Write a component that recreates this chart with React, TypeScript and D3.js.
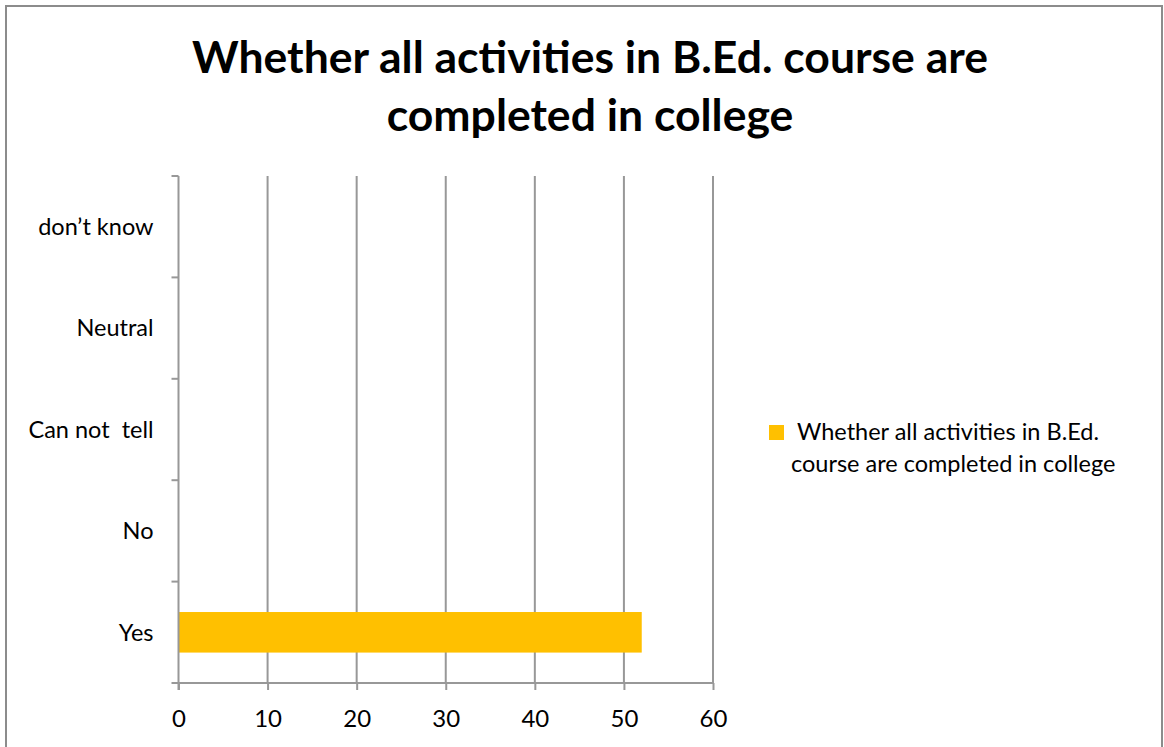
import React, { useEffect, useRef } from 'react';
import * as d3 from 'd3';

const categories = ["Yes", "No", "Can not  tell", "Neutral", "don\u2019t know"];
const values = [52, 0, 0, 0, 0];
const xTicks = [0, 10, 20, 30, 40, 50, 60];
const titleLines = ["Whether all activities in B.Ed. course are", "completed in college"];
const legendLines = ["Whether all activities in B.Ed.", "course are completed in college"];

const barColor = "#FFC000";
const lineColor = "#989898";
const font = "Lato, 'Open Sans', sans-serif";

const App = () => {
    const svgRef = useRef<SVGSVGElement>(null);

    useEffect(() => {
        const svg = d3.select(svgRef.current);
        svg.selectAll("*").remove();

        const width = 1164;
        const height = 747;
        const plot = { left: 178.5, right: 713, top: 176, bottom: 683 };

        // outer frame
        svg.append("rect")
            .attr("x", 6).attr("y", 6)
            .attr("width", 1156).attr("height", 760)
            .attr("fill", "white")
            .attr("stroke", "#8c8c8c")
            .attr("stroke-width", 2);

        // title
        svg.append("text")
            .attr("text-anchor", "middle")
            .attr("font-family", font)
            .attr("font-weight", "bold")
            .attr("font-size", 44.5)
            .selectAll("tspan")
            .data(titleLines)
            .enter()
            .append("tspan")
            .attr("x", 590)
            .attr("y", (d, i) => 73 + i * 58)
            .text(d => d);

        const xScale = d3.scaleLinear().domain([0, 60]).range([plot.left, plot.right]);
        const yScale = d3.scaleBand()
            .domain(categories)
            .range([plot.bottom, plot.top])
            .paddingInner(0.6)
            .paddingOuter(0.3);
        const bandScale = d3.scaleBand().domain(categories).range([plot.bottom, plot.top]);

        // vertical gridlines
        svg.append("g")
            .selectAll("line")
            .data(xTicks.slice(1))
            .enter()
            .append("line")
            .attr("x1", d => xScale(d)).attr("x2", d => xScale(d))
            .attr("y1", plot.top).attr("y2", plot.bottom)
            .attr("stroke", lineColor)
            .attr("stroke-width", 2);

        // bars
        svg.append("g")
            .selectAll("rect")
            .data(categories.map((c, i) => ({ c, v: values[i] })))
            .enter()
            .append("rect")
            .attr("x", xScale(0))
            .attr("y", d => yScale(d.c)!)
            .attr("width", d => xScale(d.v) - xScale(0))
            .attr("height", yScale.bandwidth())
            .attr("fill", barColor);

        // x axis
        const xAxis = svg.append("g")
            .attr("transform", `translate(0, ${plot.bottom})`)
            .call(d3.axisBottom(xScale).tickValues(xTicks).tickSize(7));
        xAxis.select(".domain").attr("stroke", lineColor).attr("stroke-width", 2)
            .attr("d", `M${plot.left - 7},0H${plot.right}`);
        xAxis.selectAll(".tick line").attr("stroke", lineColor).attr("stroke-width", 2);
        xAxis.selectAll(".tick text")
            .attr("y", 44)
            .attr("dy", 0)
            .attr("font-family", font)
            .attr("font-size", 24)
            .attr("fill", "#000");

        // y axis
        const yAxis = svg.append("g")
            .attr("transform", `translate(${plot.left}, 0)`);
        yAxis.append("line")
            .attr("y1", plot.top).attr("y2", plot.bottom + 7)
            .attr("stroke", lineColor).attr("stroke-width", 2);
        yAxis.selectAll(".ytick")
            .data(categories)
            .enter()
            .append("line")
            .attr("x1", -7).attr("x2", 0)
            .attr("y1", d => bandScale(d)!).attr("y2", d => bandScale(d)!)
            .attr("stroke", lineColor).attr("stroke-width", 2);
        yAxis.selectAll(".ylabel")
            .data(categories)
            .enter()
            .append("text")
            .attr("x", -25)
            .attr("y", d => bandScale(d)! + bandScale.bandwidth() / 2)
            .attr("dy", "0.35em")
            .attr("text-anchor", "end")
            .attr("font-family", font)
            .attr("font-size", 23.5)
            .style("white-space", "pre")
            .text(d => d);

        // legend
        const legend = svg.append("g");
        legend.append("rect")
            .attr("x", 769).attr("y", 425)
            .attr("width", 15).attr("height", 15)
            .attr("fill", barColor);
        legend.append("text")
            .attr("font-family", font)
            .attr("font-size", 23.5)
            .selectAll("tspan")
            .data(legendLines)
            .enter()
            .append("tspan")
            .attr("x", (d, i) => i === 0 ? 797 : 791)
            .attr("y", (d, i) => 440 + i * 32)
            .text(d => d);

        svg.attr("width", width).attr("height", height);
    }, []);

    return (
        <svg ref={svgRef} style={{ position: "absolute", left: 0, top: 0 }}></svg>
    );
};

export default App;
